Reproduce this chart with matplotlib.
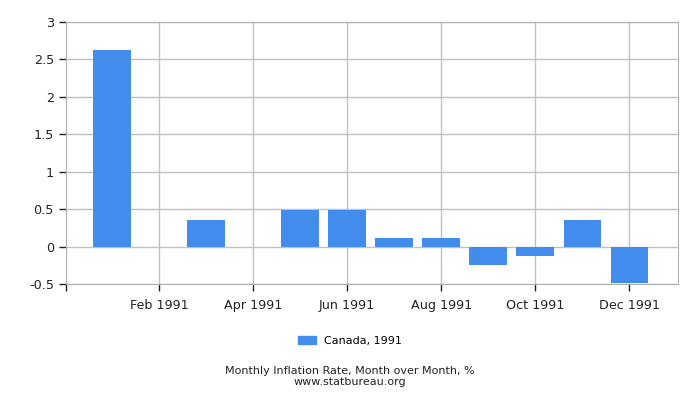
import numpy as np
import matplotlib.pyplot as plt
from matplotlib.patches import Patch

months = ["Jan", "Feb", "Mar", "Apr", "May", "Jun",
          "Jul", "Aug", "Sep", "Oct", "Nov", "Dec"]
values = [2.62, 0.0, 0.36, 0.0, 0.49, 0.49, 0.12, 0.12, -0.24, -0.12, 0.36, -0.48]
tick_months = ["Feb", "Apr", "Jun", "Aug", "Oct", "Dec"]
series_name = "Canada, 1991"
bar_color = "#428CEE"

fig = plt.figure(figsize=(7, 4), dpi=100)
ax = fig.add_axes([0.094, 0.29, 0.875, 0.655])

x = np.arange(len(months))
ax.bar(x, values, width=0.8, color=bar_color, zorder=2)

ax.set_xlim(-0.98, 12.04)
ax.set_ylim(-0.5, 3)
ax.set_yticks(np.arange(-0.5, 3.01, 0.5))
ax.set_yticklabels(["-0.5", "0", "0.5", "1", "1.5", "2", "2.5", "3"])
tpos = [months.index(m) for m in tick_months]
ax.set_xticks(tpos)
ax.set_xticklabels([m + " 1991" for m in tick_months])
# little tick at the start of the axis, as in the original
ax.set_xticks([-0.98], minor=True)

ax.grid(True, color="#c0c0c0", linewidth=1, zorder=0)
for s in ax.spines.values():
    s.set_color("#b0b0b0")
ax.tick_params(axis="both", which="both", colors="#222222", labelsize=9.2, length=5, width=1)
ax.tick_params(axis="x", pad=6)

fig.legend(handles=[Patch(color=bar_color, label=series_name)],
           loc="center", bbox_to_anchor=(0.5, 0.148), frameon=False,
           fontsize=8, handlelength=1.6, handleheight=0.8)
fig.text(0.5, 0.072, "Monthly Inflation Rate, Month over Month, %",
         ha="center", va="center", fontsize=8, color="#222222")
fig.text(0.5, 0.045, "www.statbureau.org",
         ha="center", va="center", fontsize=8, color="#222222")

fig.savefig("out.png", dpi=100)
